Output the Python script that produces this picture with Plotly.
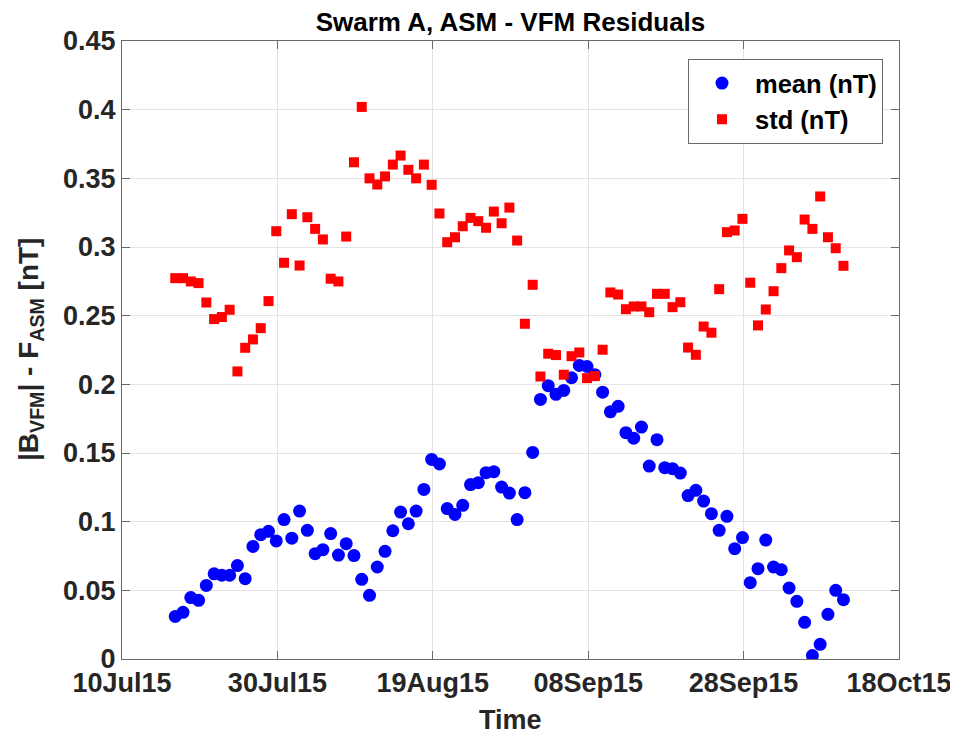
import pandas as pd
import plotly.graph_objects as go

# daily samples, 17 Jul 2015 .. 11 Oct 2015 (time of day as placed in the reference)
start_date = "2015-07-16 20:30"
n_days = 87

mean_nT = [0.031, 0.034, 0.0447, 0.0427, 0.0536, 0.062, 0.061, 0.061, 0.068, 0.0585,
           0.082, 0.0905, 0.093, 0.086, 0.1015, 0.088, 0.1077, 0.0937, 0.0767, 0.0796,
           0.0913, 0.0757, 0.084, 0.0753, 0.058, 0.0464, 0.067, 0.0784, 0.0934, 0.107,
           0.0985, 0.1077, 0.1235, 0.1453, 0.142, 0.1095, 0.1053, 0.1119, 0.127, 0.1284,
           0.1357, 0.1364, 0.1252, 0.1208, 0.1015, 0.1211, 0.1504, 0.189, 0.199, 0.1927,
           0.1956, 0.2048, 0.2138, 0.213, 0.207, 0.1943, 0.180, 0.184, 0.1648, 0.1608,
           0.1689, 0.1405, 0.1597, 0.1393, 0.1386, 0.1354, 0.119, 0.1228, 0.115, 0.1058,
           0.0937, 0.1039, 0.0803, 0.0884, 0.0556, 0.0658, 0.0866, 0.067, 0.065, 0.0517,
           0.042, 0.0267, 0.0025, 0.0107, 0.0325, 0.05, 0.0432]

std_nT = [0.2773, 0.2773, 0.2749, 0.2737, 0.2596, 0.2475, 0.249, 0.2543, 0.2094, 0.2266,
          0.2327, 0.2409, 0.2606, 0.3115, 0.2885, 0.3239, 0.2865, 0.3217, 0.3132, 0.3055,
          0.2769, 0.2749, 0.3076, 0.3617, 0.402, 0.350, 0.3455, 0.3514, 0.360, 0.3666,
          0.3562, 0.350, 0.360, 0.3453, 0.3244, 0.3035, 0.3071, 0.3151, 0.3212, 0.3188,
          0.314, 0.3258, 0.3173, 0.3287, 0.3047, 0.2441, 0.2725, 0.2057, 0.2223, 0.2213,
          0.207, 0.2205, 0.2232, 0.2045, 0.206, 0.2252, 0.2669, 0.2654, 0.2547, 0.2567,
          0.2567, 0.2525, 0.2659, 0.2659, 0.2562, 0.2598, 0.2268, 0.2215, 0.2421, 0.2376,
          0.2693, 0.3108, 0.312, 0.3205, 0.274, 0.2429, 0.2545, 0.2678, 0.2846, 0.2975,
          0.2926, 0.32, 0.3132, 0.3368, 0.3071, 0.2991, 0.2863]

series_names = ["mean (nT)", "std (nT)"]
x_range = ["2015-07-10", "2015-10-18"]
y_ticks = [0, 0.05, 0.1, 0.15, 0.2, 0.25, 0.3, 0.35, 0.4, 0.45]
y_tick_labels = ["0", "0.05", "0.1", "0.15", "0.2", "0.25", "0.3", "0.35", "0.4", "0.45"]

dates = pd.date_range(start_date, periods=n_days, freq="D")

FONT = "Liberation Sans, Arial, sans-serif"
AX = "#6a6a6a"
TXT = "#262626"

# window-pixel plot box (page body has an 8px margin)
OFF = 8
WIN_W, WIN_H = 958, 740
PX0, PX1, PY0, PY1 = 122, 899, 41, 659
W, H = WIN_W - OFF, WIN_H - OFF
L, R, T, B = PX0 - OFF, WIN_W - PX1, PY0 - OFF, WIN_H - PY1
pw, ph = PX1 - PX0, PY1 - PY0

fig = go.Figure()
fig.add_trace(go.Scatter(x=dates, y=mean_nT, mode="markers", name="<b>%s</b>" % series_names[0],
                         marker=dict(symbol="circle", size=13, color="#0000ff", line=dict(width=0))))
fig.add_trace(go.Scatter(x=dates, y=std_nT, mode="markers", name="<b>%s</b>" % series_names[1],
                         marker=dict(symbol="square", size=10, color="#ff0000", line=dict(width=0))))

fig.update_layout(
    width=W, height=H,
    margin=dict(l=L, r=R, t=T, b=B, pad=0),
    plot_bgcolor="white", paper_bgcolor="white",
    font=dict(family=FONT, size=24, color=TXT),
    title=dict(text="<b>Swarm A, ASM - VFM Residuals</b>", x=((PX0 + PX1) / 2 - OFF) / W, xanchor="center",
               y=1 - (22 - OFF) / H, yanchor="middle", font=dict(size=26, color="black")),
    showlegend=True,
    legend=dict(x=(688 - PX0) / pw, y=(PY1 - 59) / ph, xanchor="left", yanchor="top", bgcolor="white",
                bordercolor=AX, borderwidth=1, font=dict(size=25.5, color="black"),
                itemsizing="trace", itemwidth=56, tracegroupgap=0),
    annotations=[
        dict(text="<b>|B<sub>VFM</sub>| - F<sub>ASM</sub> [nT]</b>", xref="paper", yref="paper",
             x=(30 - PX0) / pw, y=0.5, xanchor="center", yanchor="middle", textangle=-90,
             showarrow=False, font=dict(size=28, color=TXT)),
        dict(text="<b>Time</b>", xref="paper", yref="paper",
             x=0.5, y=(PY1 - 720) / ph, xanchor="center", yanchor="middle",
             showarrow=False, font=dict(size=27, color=TXT)),
    ],
)

fig.update_xaxes(
    type="date", range=x_range, tick0=x_range[0], dtick=20 * 86400000,
    tickformat="<b>%d%b%y</b>", showgrid=True, gridcolor="#e3e3e3", gridwidth=1,
    showline=True, linecolor=AX, linewidth=1, mirror="ticks", automargin=False,
    ticks="inside", ticklen=8, tickcolor=AX, tickfont=dict(size=27, color=TXT),
    zeroline=False,
)
fig.update_yaxes(
    range=[0, 0.45], tickvals=y_ticks, ticktext=["<b>%s</b>" % t for t in y_tick_labels],
    showgrid=True, gridcolor="#e3e3e3", gridwidth=1,
    showline=True, linecolor=AX, linewidth=1, mirror="ticks", automargin=False,
    ticks="inside", ticklen=8, tickcolor=AX, tickfont=dict(size=27, color=TXT),
    zeroline=False,
)

fig.write_html("out.html")
